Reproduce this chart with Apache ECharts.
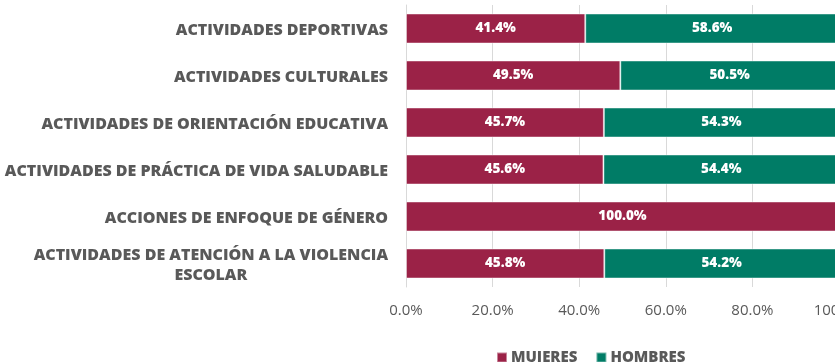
<!DOCTYPE html>
<html>
<head>
<meta charset="utf-8">
<script src="https://cdn.jsdelivr.net/npm/echarts@6/dist/echarts.min.js"></script>
<style>
  html, body { margin: 0; padding: 0; background: #ffffff; }
  #chart { width: 835px; height: 362px; }
</style>
</head>
<body>
<div id="chart"></div>
<script>
// Categories, top to bottom
const categories = [
  'ACTIVIDADES DEPORTIVAS',
  'ACTIVIDADES CULTURALES',
  'ACTIVIDADES DE ORIENTACIÓN EDUCATIVA',
  'ACTIVIDADES DE PRÁCTICA DE VIDA SALUDABLE',
  'ACCIONES DE ENFOQUE DE GÉNERO',
  'ACTIVIDADES DE ATENCIÓN A LA VIOLENCIA\nESCOLAR'
];
// Share of participants (%)
const mujeres = [41.4, 49.5, 45.7, 45.6, 100.0, 45.8];
const hombres = [58.6, 50.5, 54.3, 54.4, 0, 54.2];
const xTicks = [0, 20, 40, 60, 80, 100];

const FONT = '"Open Sans", "Noto Sans", sans-serif';
const TEXT = '#595959';
const GRID = '#d9d9d9';

const chart = echarts.init(document.getElementById('chart'), null, { renderer: 'canvas' });

const valueLabel = {
  show: true,
  position: 'inside',
  color: '#ffffff',
  fontFamily: FONT,
  fontWeight: 800,
  fontSize: 13.5,
  formatter: p => p.value > 0 ? p.value.toFixed(1) + '%' : ''
};

chart.setOption({
  animation: false,
  backgroundColor: '#ffffff',
  grid: { left: 406, right: -4, top: 5, bottom: 75, containLabel: false, outerBoundsMode: 'none' },
  legend: {
    data: ['MUJERES', 'HOMBRES'],
    top: 350,
    left: 496,
    padding: 0,
    itemWidth: 10,
    itemHeight: 10,
    itemGap: 18,
    icon: 'rect',
    textStyle: { color: TEXT, fontFamily: FONT, fontWeight: 800, fontSize: 15, padding: [0, 0, 0, -1] }
  },
  xAxis: {
    type: 'value',
    min: xTicks[0],
    max: xTicks[xTicks.length - 1],
    interval: 20,
    axisLine: { show: false },
    axisTick: { show: false },
    splitLine: { show: true, lineStyle: { color: GRID, width: 1 } },
    axisLabel: {
      color: TEXT,
      fontFamily: FONT,
      fontSize: 15,
      margin: 16,
      hideOverlap: false,
      formatter: v => v.toFixed(1) + '%'
    }
  },
  yAxis: {
    type: 'category',
    data: categories,
    inverse: true,
    axisLine: { show: true, lineStyle: { color: GRID, width: 1 } },
    axisTick: { show: false },
    axisLabel: {
      margin: 18,
      color: TEXT,
      fontFamily: FONT,
      fontWeight: 800,
      fontSize: 16,
      lineHeight: 20,
      padding: [3, 0, 0, 0],
      formatter: v => {
        const parts = v.split('\n');
        if (parts.length === 1) return v;
        return parts.map(p => '{c|' + p + '}').join('\n');
      },
      rich: {
        c: {
          align: 'center',
          color: TEXT,
          fontFamily: FONT,
          fontWeight: 800,
          fontSize: 16,
          lineHeight: 20
        }
      }
    }
  },
  series: [
    {
      name: 'MUJERES',
      type: 'bar',
      stack: 'total',
      barWidth: 30,
      data: mujeres,
      itemStyle: { color: '#9b2247', borderColor: 'rgba(255,255,255,0.45)', borderWidth: 1 },
      label: valueLabel
    },
    {
      name: 'HOMBRES',
      type: 'bar',
      stack: 'total',
      barWidth: 30,
      data: hombres,
      itemStyle: { color: '#007c66', borderColor: 'rgba(255,255,255,0.45)', borderWidth: 1 },
      label: valueLabel
    }
  ]
});
</script>
</body>
</html>
